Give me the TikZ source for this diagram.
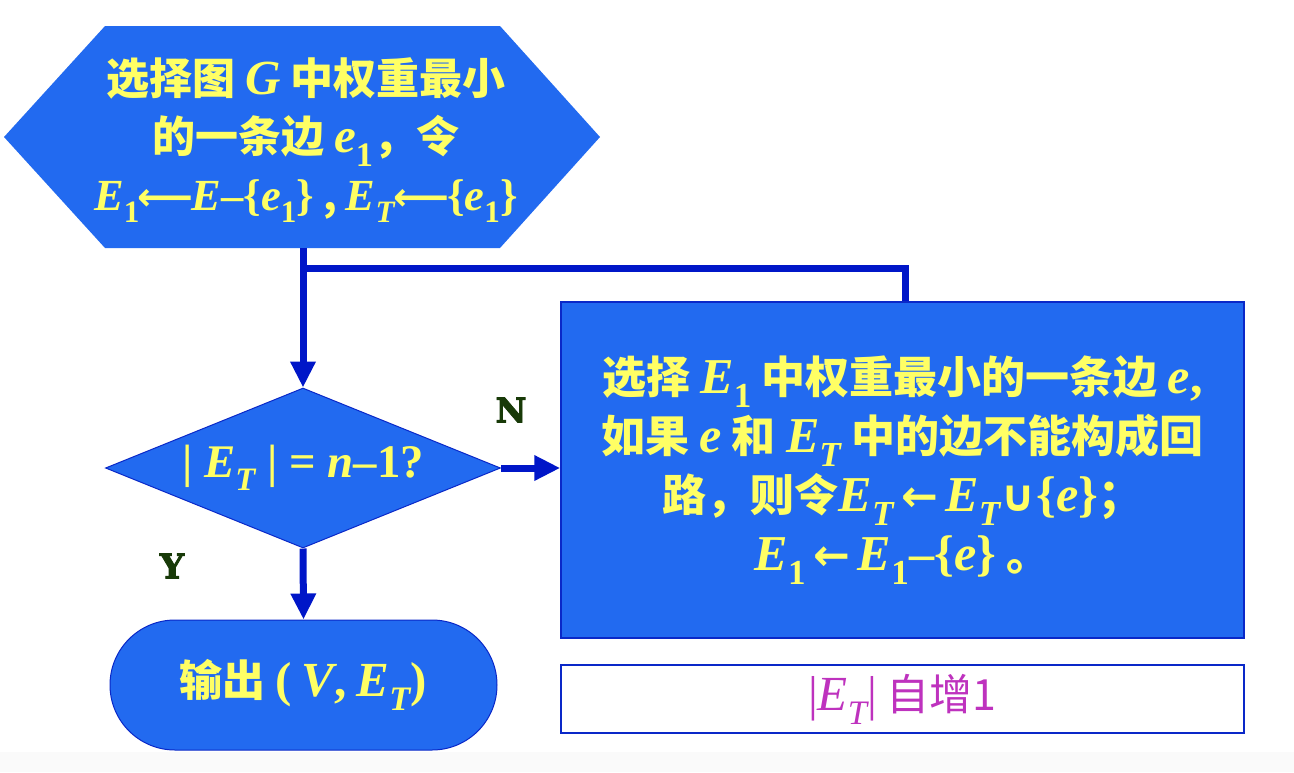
\documentclass[tikz,border=0pt]{standalone}
\usepackage{fontspec}
\setmainfont{Liberation Serif}[Scale=1.14]
\newfontfamily\cjk{Noto Sans CJK SC}
\newfontfamily\sym{DejaVu Sans}
\newfontfamily\ynfont{DejaVu Serif}[FakeBold=2.5]
\usetikzlibrary{shapes.geometric,arrows.meta}
\definecolor{boxblue}{RGB}{34,106,240}
\definecolor{edgeblue}{RGB}{10,40,200}
\definecolor{lineblue}{RGB}{0,22,200}
\definecolor{txtyellow}{RGB}{255,255,100}
\definecolor{incmag}{RGB}{190,50,190}
\definecolor{ynlabel}{RGB}{24,58,8}
\newcommand\vi[1]{{\rmfamily\bfseries\itshape #1}}
\newcommand\vr[1]{{\rmfamily\itshape #1}}
\newcommand\sbs[1]{\textsubscript{\rmfamily #1}}
\newcommand\vT{\textsubscript{\vi{T}}}
\newcommand\vrT{\textsubscript{\vr{T}}}
\newcommand\larr{{\sym\kern-2pt⟵\kern-2pt}}
\newcommand\sarr{{\sym ←}}
\newcommand\cupsym{{\sym ∪}}
\begin{document}
\begin{tikzpicture}[x=1pt,y=-1pt,
  bluetext/.style={text=txtyellow, align=center, font=\cjk\bfseries\fontsize{43}{58}\selectfont},
  flow/.style={draw=lineblue, line width=7pt, -{Triangle[length=26pt,width=24pt]}},
  conn/.style={draw=lineblue, line width=7pt},
  yn/.style={text=ynlabel, font=\ynfont\bfseries\fontsize{34}{34}\selectfont}
]
\useasboundingbox (0,0) rectangle (1294,772);
\fill[black!2] (0,752) rectangle (1294,772);

% start hexagon
\fill[boxblue] (4,137) -- (105,26) -- (500,26) -- (600,137) -- (500,248) -- (105,248) -- cycle;
\node[bluetext] (hex) at (306,140) {选择图 \vi{G} 中权重最小\\的一条边 \vi{e}\sbs{1}，令\\{\fontsize{39}{58}\selectfont\vi{E}\sbs{1}\larr\vi{E}{\rmfamily\bfseries –\{}\vi{e}\sbs{1}{\rmfamily\bfseries\}} , \vi{E}\vT\larr{\rmfamily\bfseries\{}\vi{e}\sbs{1}{\rmfamily\bfseries\}}}};
\coordinate (hexb) at (303,248);
\coordinate (join) at (303,268);

% decision
\node[diamond, fill=boxblue, draw=edgeblue, line width=1pt, aspect=2.47,
      minimum width=395pt, minimum height=160pt, inner sep=0pt, bluetext,
      font=\cjk\bfseries\fontsize{41}{58}\selectfont] (dia) at (303,468)
  {{\rmfamily\bfseries| }\vi{E}\vT{\rmfamily\bfseries\ | = }\vi{n}{\rmfamily\bfseries –1}{\rmfamily ?}};

% terminal
\node[rectangle, rounded corners=65pt, fill=boxblue, draw=edgeblue, line width=1pt,
      minimum width=387pt, minimum height=130pt, bluetext] (out) at (303.5,685)
  {输出 {\rmfamily\bfseries (} \vi{V}{\rmfamily\bfseries ,} \vi{E}\vT{\rmfamily\bfseries )}};

% process
\node[rectangle, fill=boxblue, draw=edgeblue, line width=1.5pt,
      minimum width=683pt, minimum height=336pt, bluetext, font=\cjk\bfseries\fontsize{44}{59}\selectfont] (proc) at (902.5,470)
  {选择 \vr{E}\sbs{1} 中权重最小的一条边 \vr{e}{\rmfamily ,}\\
   如果 \vr{e} 和 \vr{E}\vrT\ 中的边不能构成回\\
   路，则令\vr{E}\vrT\,\sarr\,\vr{E}\vrT\cupsym{\rmfamily\{}\vr{e}{\rmfamily\}}；\\
   \vr{E}\sbs{1}\,\sarr\,\vr{E}\sbs{1}{\rmfamily –\{}\vr{e}{\rmfamily\}} 。};
\coordinate (loop) at (905,268);

% increment box
\node[rectangle, fill=white, draw=edgeblue, line width=1.5pt,
      minimum width=683pt, minimum height=68pt, text=incmag,
      font=\cjk\fontsize{43}{48}\selectfont] (inc) at (902.5,699)
  {{\rmfamily |}\vr{E}\vrT{\rmfamily |} 自增1};

% connectors
\draw[flow] (hexb) -- (dia.north);
\draw[conn] (proc.north -| loop) |- (join);
\draw[flow] (dia.east) -- (proc.west |- dia.east);
\draw[flow] (dia.south) -- (out.north);

\node[yn] (nlab) at (511,410) {N};
\node[yn] (ylab) at (172,566) {Y};
\end{tikzpicture}
\end{document}
